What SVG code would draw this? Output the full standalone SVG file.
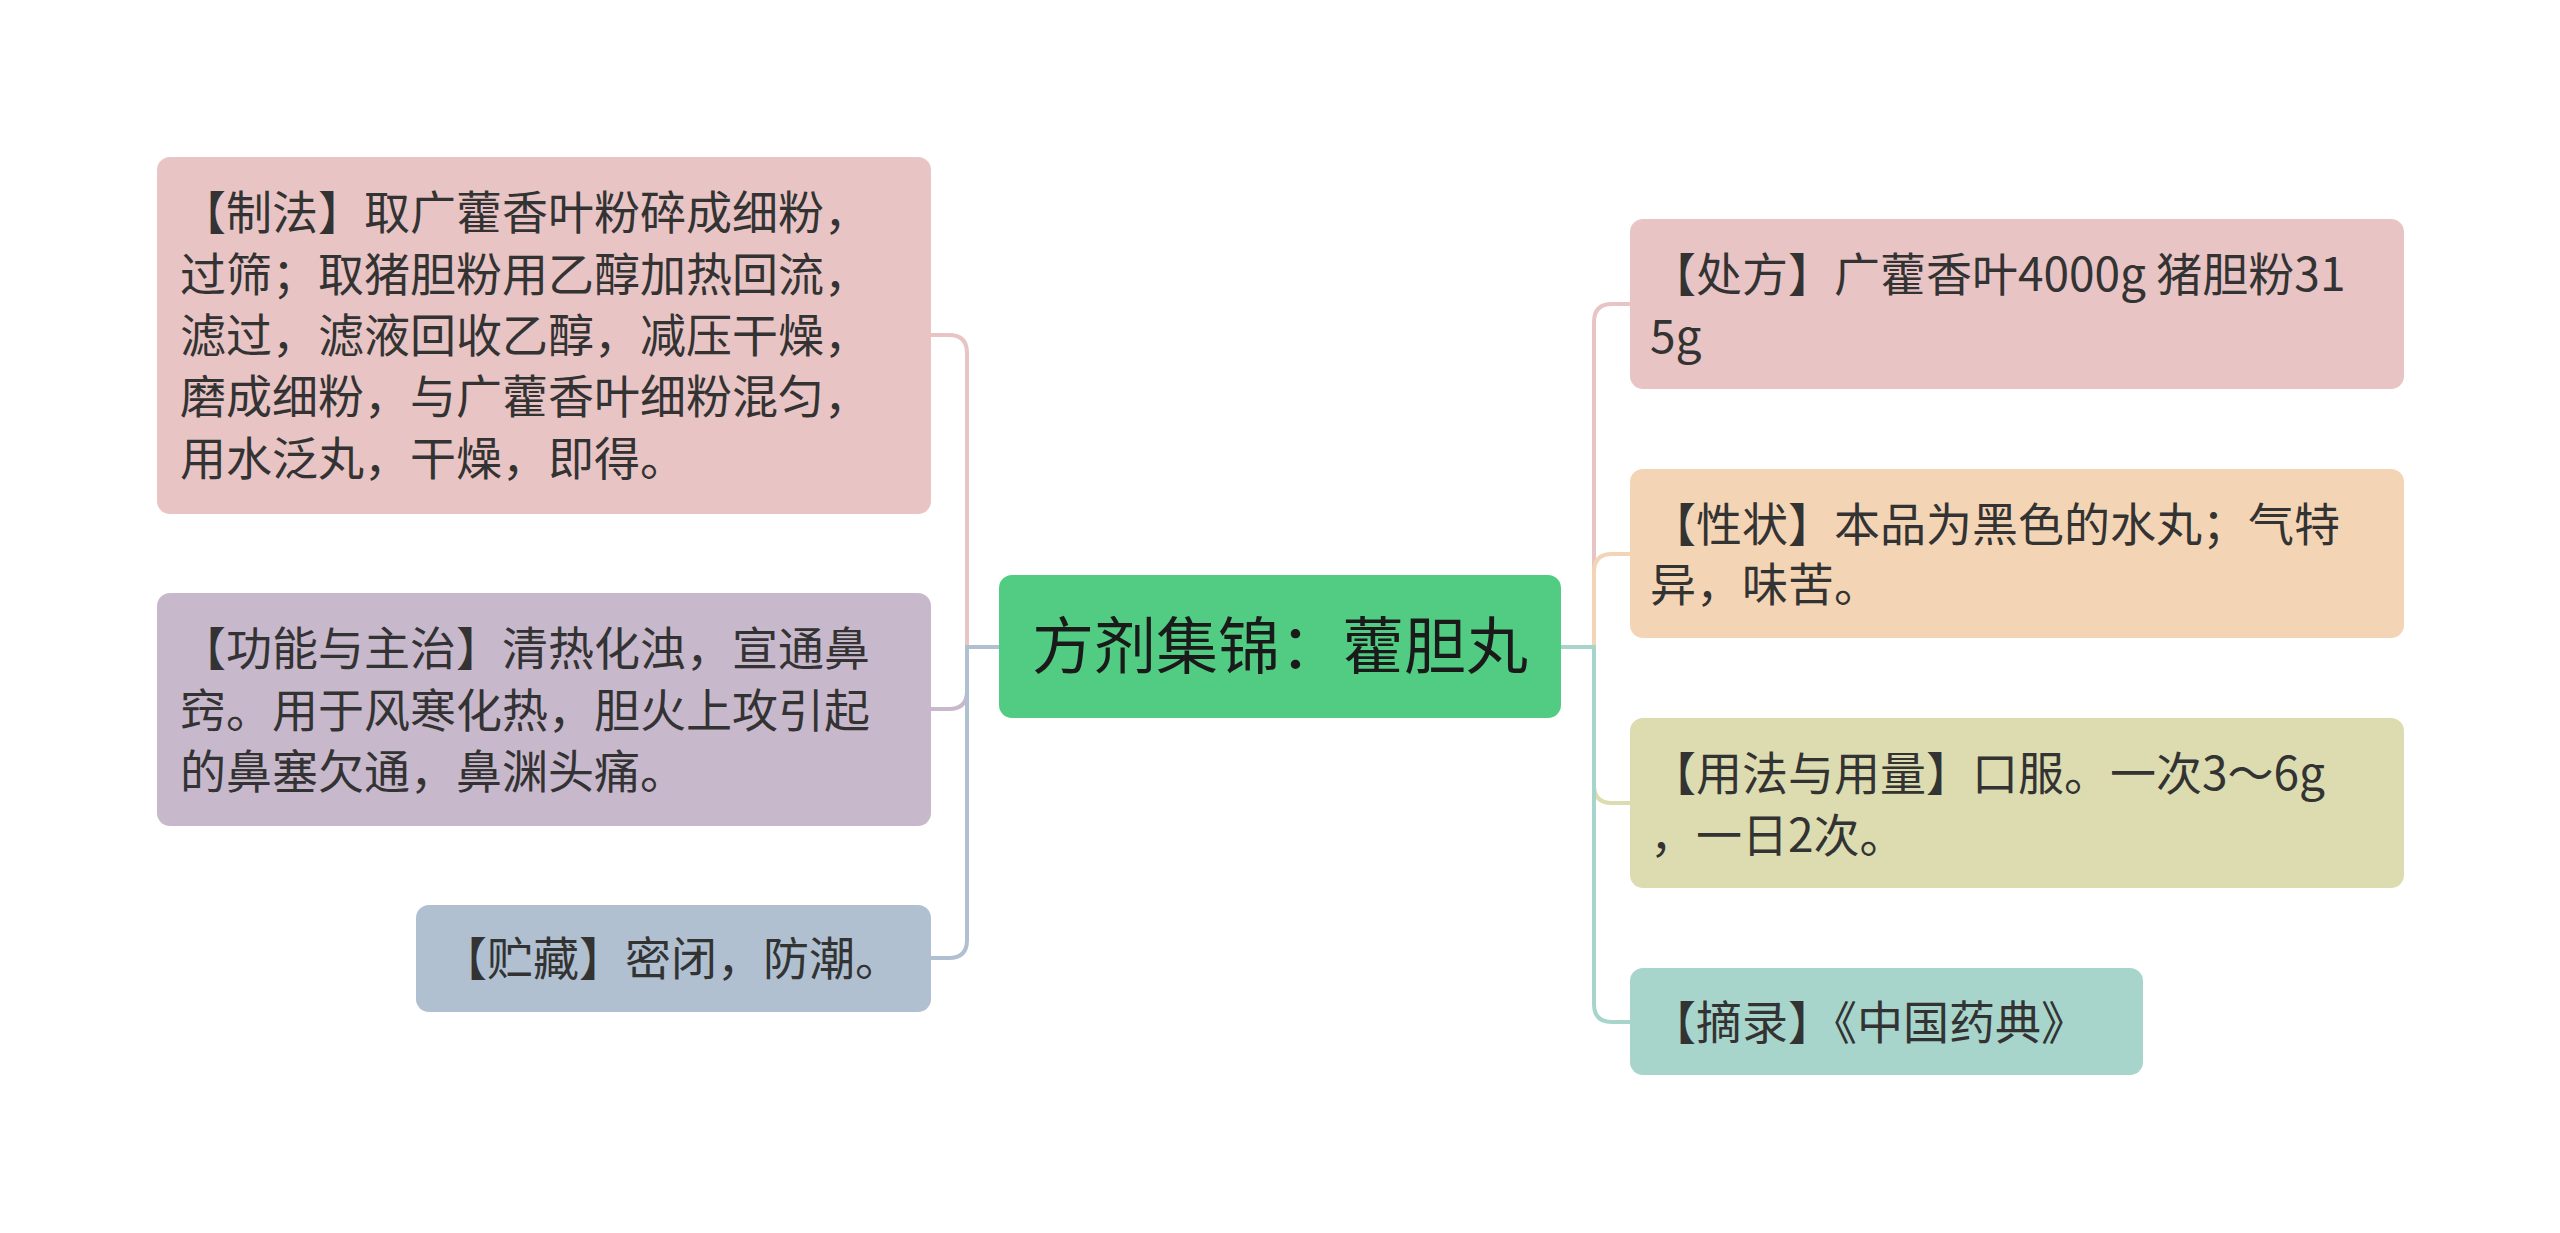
<svg xmlns="http://www.w3.org/2000/svg" width="2560" height="1233" viewBox="0 0 2560 1233">
<style>
text{font-family:"Noto Sans CJK SC","Noto Sans",sans-serif;fill:#333;font-size:46px}
.c{fill:none;stroke-width:4}
</style>
<rect width="2560" height="1233" fill="#fff"/>
<g id="connectors">
<path class="c" stroke="#e8c4c4" d="M999 647H967V353Q967 335 949 335H931"/>
<path class="c" stroke="#c8b8cc" d="M999 647H967V691Q967 709 949 709H931"/>
<path class="c" stroke="#b0c0d0" d="M999 647H967V940Q967 958 949 958H931"/>
<path class="c" stroke="#e8c4c4" d="M1561 647H1594V322Q1594 304 1612 304H1630"/>
<path class="c" stroke="#f3d5b5" d="M1561 647H1594V572Q1594 554 1612 554H1630"/>
<path class="c" stroke="#dcdcb0" d="M1561 647H1594V785Q1594 803 1612 803H1630"/>
<path class="c" stroke="#a8d5cb" d="M1561 647H1594V1004Q1594 1022 1612 1022H1630"/>
</g>
<g id="center"><rect x="999" y="575" width="562" height="143" rx="13" fill="#52cc82"/>
<text x="1280" y="669" text-anchor="middle" style="font-size:62px;fill:#1a1a1a">方剂集锦：藿胆丸</text></g>
<g id="n1"><rect x="157" y="157" width="774" height="357" rx="13" fill="#e8c4c4"/>
<text x="180" y="229">【制法】取广藿香叶粉碎成细粉，</text>
<text x="180" y="291">过筛；取猪胆粉用乙醇加热回流，</text>
<text x="180" y="352">滤过，滤液回收乙醇，减压干燥，</text>
<text x="180" y="413">磨成细粉，与广藿香叶细粉混匀，</text>
<text x="180" y="475">用水泛丸，干燥，即得。</text></g>
<g id="n2"><rect x="157" y="593" width="774" height="233" rx="13" fill="#c8b8cc"/>
<text x="180" y="665">【功能与主治】清热化浊，宣通鼻</text>
<text x="180" y="727">窍。用于风寒化热，胆火上攻引起</text>
<text x="180" y="788">的鼻塞欠通，鼻渊头痛。</text></g>
<g id="n3"><rect x="416" y="905" width="515" height="107" rx="13" fill="#b0c0d0"/>
<text x="441" y="975">【贮藏】密闭，防潮。</text></g>
<g id="r1"><rect x="1630" y="219" width="774" height="170" rx="13" fill="#e8c4c4"/>
<text x="1650" y="291">【处方】广藿香叶4000g 猪胆粉31</text>
<text x="1650" y="353">5g</text></g>
<g id="r2"><rect x="1630" y="469" width="774" height="169" rx="13" fill="#f3d5b5"/>
<text x="1650" y="541">【性状】本品为黑色的水丸；气特</text>
<text x="1650" y="601">异，味苦。</text></g>
<g id="r3"><rect x="1630" y="718" width="774" height="170" rx="13" fill="#dcdcb0"/>
<text x="1650" y="790">【用法与用量】口服。一次3～6g</text>
<text x="1650" y="852">，一日2次。</text></g>
<g id="r4"><rect x="1630" y="968" width="513" height="107" rx="13" fill="#a8d5cb"/>
<text x="1650" y="1039">【摘录】《中国药典》</text></g>
</svg>
